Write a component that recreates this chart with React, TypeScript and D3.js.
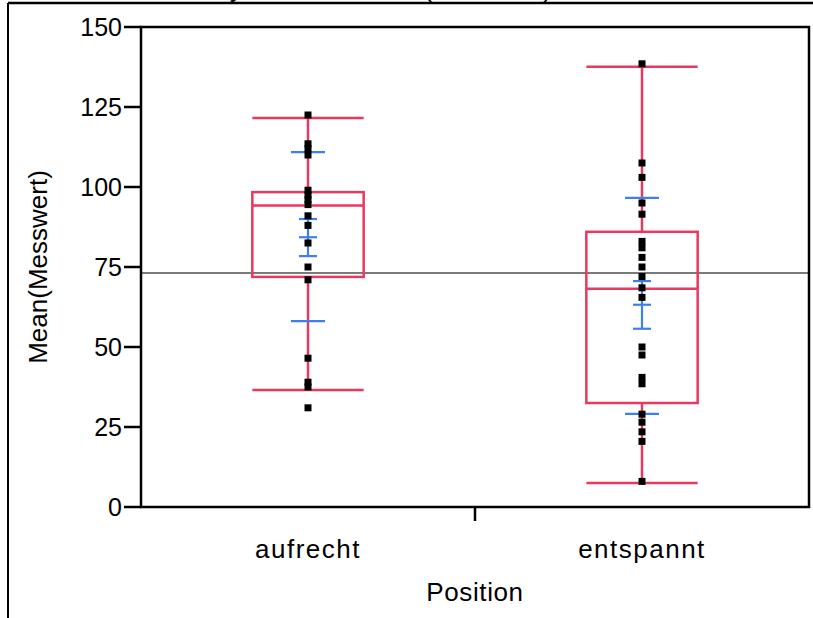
import React from 'react';
import * as d3 from 'd3';

// categories and summary values
const positions = ['aufrecht', 'entspannt'];
const yTicks = [0, 25, 50, 75, 100, 125, 150];

// box plot: [whiskerLow, q1, median, q3, whiskerHigh]
const boxStats = [
  [36.6, 71.9, 94.2, 98.4, 121.6],
  [7.5, 32.5, 68.2, 86.0, 137.6],
];
// mean, mean error bar low/high, std dev low/high
const means = [84.3, 63.2];
const ciLow = [78.4, 55.7];
const ciHigh = [90.0, 70.6];
const sdLow = [58.1, 29.1];
const sdHigh = [110.9, 96.6];
const grandMean = 73.1;

const aufrechtValues = [122.5, 113.5, 112, 110, 99, 97.5, 96, 94.5, 91, 88, 82.5, 75, 71, 46.5, 39, 37.5, 31];
const entspanntValues = [138.5, 107.5, 103, 95, 91.5, 83, 81, 78, 75, 72, 68.5, 65.5, 50, 47.5, 40.5, 38.5, 29, 26.5, 23.5, 20.5, 8];
const pointValues = [aufrechtValues, entspanntValues];

const W = 813;
const H = 618;
const left = 141, right = 809, top = 27, bottom = 507;
const red = '#ea3860';
const blue = '#3b80ec';
const font = 'Arial, "Liberation Sans", sans-serif';

export default function App() {
  const x = d3.scaleBand<string>().domain(positions).range([left, right]).padding(0);
  const y = d3.scaleLinear().domain([0, 150]).range([bottom, top]);
  const bw = x.bandwidth();
  const boxW = bw / 3;

  return (
    <svg width={W} height={H} style={{ position: 'absolute', left: 0, top: 0, background: '#fff' }} fontFamily={font}>
      {/* title, cut off at the top like in the source */}
      <text x={552} y={-3} fontSize={26} textAnchor="end">Variability Chart for Mean(Messwert)</text>
      <line x1={8} x2={W} y1={3} y2={3} stroke="#000" strokeWidth={2.5} />
      <line x1={8} x2={8} y1={3} y2={H} stroke="#000" strokeWidth={2} />

      {/* grand mean */}
      <line x1={left} x2={right} y1={y(grandMean)} y2={y(grandMean)} stroke="#7a7a7a" strokeWidth={2} />

      {positions.map((p, i) => {
        const cx = x(p)! + bw / 2;
        const [lo, q1, med, q3, hi] = boxStats[i];
        return (
          <g key={p}>
            <g stroke={red} strokeWidth={2.5} fill="none">
              <rect x={cx - boxW / 2} y={y(q3)} width={boxW} height={y(q1) - y(q3)} />
              <line x1={cx - boxW / 2} x2={cx + boxW / 2} y1={y(med)} y2={y(med)} />
              <line x1={cx} x2={cx} y1={y(q3)} y2={y(hi)} />
              <line x1={cx} x2={cx} y1={y(q1)} y2={y(lo)} />
              <line x1={cx - boxW / 2} x2={cx + boxW / 2} y1={y(hi)} y2={y(hi)} />
              <line x1={cx - boxW / 2} x2={cx + boxW / 2} y1={y(lo)} y2={y(lo)} />
            </g>
            <g stroke={blue} strokeWidth={2.2}>
              <line x1={cx} x2={cx} y1={y(ciLow[i])} y2={y(ciHigh[i])} />
              <line x1={cx - 9} x2={cx + 9} y1={y(ciLow[i])} y2={y(ciLow[i])} />
              <line x1={cx - 9} x2={cx + 9} y1={y(ciHigh[i])} y2={y(ciHigh[i])} />
              <line x1={cx - 9} x2={cx + 9} y1={y(means[i])} y2={y(means[i])} />
              <line x1={cx - 17} x2={cx + 17} y1={y(sdLow[i])} y2={y(sdLow[i])} />
              <line x1={cx - 17} x2={cx + 17} y1={y(sdHigh[i])} y2={y(sdHigh[i])} />
            </g>
            {pointValues[i].map((v, j) => (
              <rect key={j} x={cx - 3.5} y={y(v) - 3.5} width={7} height={7} fill="#000" />
            ))}
          </g>
        );
      })}

      {/* plot frame */}
      <rect x={left} y={top} width={right - left} height={bottom - top} fill="none" stroke="#000" strokeWidth={2.5} />

      {/* y axis */}
      {yTicks.map(t => (
        <g key={t}>
          <line x1={left - 17} x2={left} y1={y(t)} y2={y(t)} stroke="#000" strokeWidth={2.5} />
          <text x={left - 19} y={y(t)} dy="0.36em" fontSize={25} textAnchor="end">{t}</text>
        </g>
      ))}
      <text transform={`translate(38,${(top + bottom) / 2}) rotate(-90)`} dy="0.35em" fontSize={26} textAnchor="middle">Mean(Messwert)</text>

      {/* x axis */}
      <line x1={(left + right) / 2} x2={(left + right) / 2} y1={bottom} y2={bottom + 14} stroke="#000" strokeWidth={2.5} />
      {positions.map(p => (
        <text key={p} x={x(p)! + bw / 2} y={558} fontSize={26} letterSpacing={1.5} textAnchor="middle">{p}</text>
      ))}
      <text x={(left + right) / 2} y={601} fontSize={26} letterSpacing={0.6} textAnchor="middle">Position</text>
    </svg>
  );
}
